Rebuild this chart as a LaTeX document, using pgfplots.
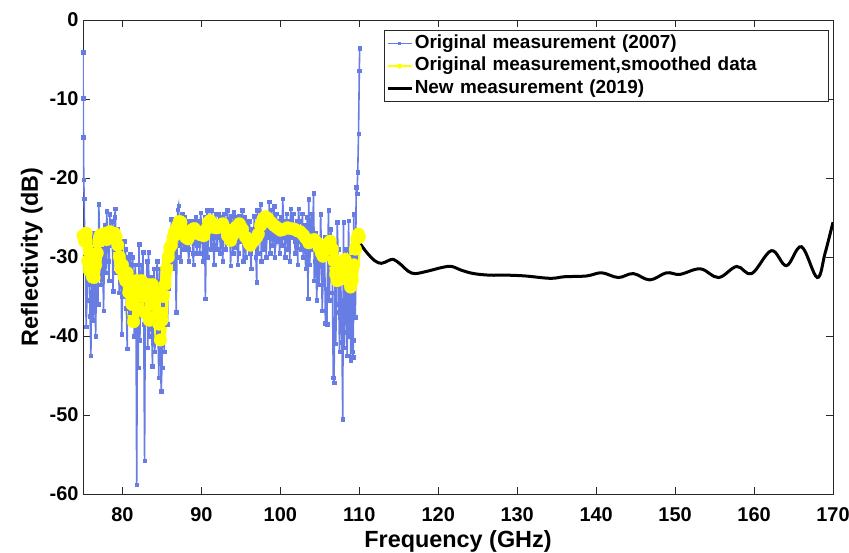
\documentclass[border=0pt]{standalone}
\usepackage{fontspec}
\setmainfont{Liberation Sans}
\usepackage{pgfplots}
\pgfplotsset{compat=1.18}
\definecolor{mblue}{RGB}{104,125,228}
\definecolor{myellow}{RGB}{255,255,0}
\definecolor{axgray}{RGB}{40,40,40}
\begin{document}
\begin{tikzpicture}
\begin{axis}[
 scale only axis, width=750bp, height=474bp,
 xmin=75, xmax=170, ymin=-60, ymax=0,
 xtick={80,90,...,170}, ytick={-60,-50,...,0},
 tick align=inside, major tick length=7bp,
 axis line style={axgray, line width=0.9bp},
 every tick/.style={axgray, line width=0.9bp},
 ticklabel style={font=\fontsize{20}{24}\selectfont\bfseries},
 /pgf/number format/assume math mode=true,
 xticklabel style={anchor=base, yshift=-28bp},
 yticklabel style={xshift=-1bp},
 xlabel={Frequency (GHz)}, ylabel={Reflectivity (dB)},
 label style={font=\fontsize{23.5}{28}\selectfont\bfseries},
 xlabel style={at={(axis description cs:0.5,0)}, anchor=base, yshift=-54bp},
 legend style={at={(0.995,0.979)}, anchor=north east, draw=axgray, line width=0.9bp, inner sep=2bp, row sep=0pt,
   font=\fontsize{19}{22}\selectfont\bfseries,
   nodes={text width=410bp, align=left, text height=14bp, text depth=4.5bp, inner sep=2bp}},
 legend cell align=left,
]
\coordinate (sw) at (rel axis cs:0,0);
\coordinate (ne) at (rel axis cs:1,1);
\addplot[mblue, line width=1.6bp, mark=square*, mark size=1.8bp, mark options={solid, fill=mblue, line width=0.4bp},
 legend image code/.code={\draw[mblue, line width=1.3bp] (0bp,0bp) -- (24bp,0bp); \path[fill=mblue, draw=none] (10.5bp,-1.6bp) rectangle (13.5bp,1.6bp);}]
coordinates {
(75.0,-4.1)(75.03,-9.9)(75.06,-14.8)(75.1,-20.2)(75.15,-22.6)(75.2,-26.5)(75.3,-30.0)(75.4,-38.8)(75.5,-35.5)(75.6,-28.0)(75.7,-31.0)(75.8,-33.5)(75.9,-37.5)
(76.0,-42.5)(76.1,-30.0)(76.2,-26.9)(76.3,-38.0)(76.4,-35.0)(76.5,-29.0)(76.6,-40.0)(76.7,-33.0)(76.8,-29.5)(76.9,-36.0)
(77.0,-23.3)(77.1,-27.5)(77.2,-31.0)(77.3,-33.5)(77.4,-27.0)(77.5,-29.0)(77.6,-36.8)(77.7,-30.5)(77.8,-26.0)(77.9,-32.0)
(78.0,-24.2)(78.1,-27.0)(78.2,-30.5)(78.3,-33.0)(78.4,-24.6)(78.5,-28.5)(78.6,-27.5)(78.7,-25.5)(78.8,-34.3)(78.9,-29.0)
(79.0,-25.0)(79.1,-23.9)(79.2,-32.0)(79.3,-28.0)(79.4,-26.5)(79.5,-31.5)(79.6,-34.5)(79.7,-29.0)(79.8,-28.0)(79.9,-39.8)
(80.0,-35.0)(80.1,-30.5)(80.2,-28.0)(80.3,-33.0)(80.4,-29.0)(80.5,-36.5)(80.6,-41.6)(80.7,-30.0)(80.8,-31.0)(80.9,-37.0)
(81.0,-29.6)(81.1,-32.0)(81.2,-34.5)(81.3,-30.0)(81.4,-36.0)(81.5,-40.0)(81.6,-31.0)(81.7,-33.0)(81.8,-58.8)(81.9,-36.5)
(82.0,-44.0)(82.1,-28.4)(82.2,-40.5)(82.3,-35.5)(82.4,-31.0)(82.5,-33.0)(82.6,-29.4)(82.7,-38.5)(82.8,-55.8)(82.9,-34.0)
(83.0,-36.0)(83.1,-30.5)(83.2,-41.5)(83.3,-29.4)(83.4,-40.0)(83.5,-37.0)(83.6,-32.5)(83.7,-39.0)(83.8,-43.8)(83.9,-35.0)
(84.0,-31.5)(84.1,-42.0)(84.2,-38.0)(84.3,-33.0)(84.4,-30.5)(84.5,-39.5)(84.6,-45.3)(84.7,-31.5)(84.8,-40.0)(84.9,-47.0)
(85.0,-44.0)(85.1,-36.0)(85.2,-30.0)(85.3,-42.0)(85.4,-35.0)(85.5,-31.5)(85.6,-29.5)(85.7,-38.5)(85.8,-34.0)(85.9,-31.0)
(86.0,-27.5)(86.1,-30.5)(86.2,-25.2)(86.3,-27.0)(86.4,-29.0)(86.5,-31.5)(86.6,-27.5)(86.7,-26.0)(86.8,-37.0)(86.9,-30.0)
(87.0,-24.0)(87.1,-23.5)(87.2,-28.5)(87.3,-26.5)(87.4,-30.5)(87.5,-25.5)(87.6,-24.6)(87.7,-29.0)(87.8,-27.0)(87.9,-25.0)
(88.0,-28.5)(88.1,-26.3)(88.2,-25.5)(88.3,-29.0)(88.4,-30.5)(88.5,-28.0)(88.6,-26.0)(88.7,-27.5)(88.8,-25.5)(88.9,-29.5)
(89.0,-31.0)(89.1,-26.5)(89.2,-28.0)(89.3,-25.0)(89.4,-29.5)(89.5,-28.5)(89.6,-25.5)(89.7,-27.0)(89.8,-29.5)(89.9,-24.4)
(90.0,-26.0)(90.1,-28.0)(90.2,-30.5)(90.3,-26.0)(90.4,-25.0)(90.5,-35.3)(90.6,-28.5)(90.7,-24.1)(90.8,-30.0)(90.9,-27.0)
(91.0,-25.0)(91.1,-25.5)(91.2,-29.0)(91.3,-24.1)(91.4,-26.5)(91.5,-28.5)(91.6,-31.0)(91.7,-26.0)(91.8,-24.5)(91.9,-27.5)
(92.0,-29.0)(92.1,-27.0)(92.2,-24.6)(92.3,-26.0)(92.4,-29.5)(92.5,-25.0)(92.6,-26.0)(92.7,-30.5)(92.8,-27.5)(92.9,-24.5)
(93.0,-25.5)(93.1,-29.0)(93.2,-26.5)(93.3,-24.1)(93.4,-25.5)(93.5,-28.0)(93.6,-27.0)(93.7,-31.1)(93.8,-24.8)(93.9,-26.5)
(94.0,-29.5)(94.1,-24.3)(94.2,-26.0)(94.3,-28.8)(94.4,-25.0)(94.5,-26.5)(94.6,-31.0)(94.7,-29.5)(94.8,-24.8)(94.9,-25.5)
(95.0,-28.0)(95.1,-26.0)(95.2,-24.1)(95.3,-30.5)(95.4,-27.5)(95.5,-25.0)(95.6,-30.0)(95.7,-28.0)(95.8,-25.4)(95.9,-26.5)
(96.0,-28.5)(96.1,-25.5)(96.2,-29.5)(96.3,-31.5)(96.4,-26.5)(96.5,-27.5)(96.6,-28.5)(96.7,-24.8)(96.8,-27.0)(96.9,-30.0)
(97.0,-33.2)(97.1,-24.1)(97.2,-29.5)(97.3,-27.5)(97.4,-25.5)(97.5,-23.3)(97.6,-30.5)(97.7,-26.5)(97.8,-24.5)(97.9,-29.0)
(98.0,-28.0)(98.1,-25.0)(98.2,-30.0)(98.3,-27.5)(98.4,-24.5)(98.5,-27.0)(98.6,-23.0)(98.7,-29.5)(98.8,-26.0)(98.9,-24.0)
(99.0,-28.5)(99.1,-27.0)(99.2,-23.6)(99.3,-30.0)(99.4,-26.5)(99.5,-24.5)(99.6,-28.0)(99.7,-27.5)(99.8,-25.5)(99.9,-29.5)
(100.0,-27.0)(100.1,-25.0)(100.2,-28.5)(100.3,-22.6)(100.4,-25.5)(100.5,-27.5)(100.6,-30.0)(100.7,-26.0)(100.8,-24.5)(100.9,-29.0)
(101.0,-28.0)(101.1,-25.5)(101.2,-30.5)(101.3,-23.9)(101.4,-26.0)(101.5,-27.5)(101.6,-24.5)(101.7,-26.5)(101.8,-28.0)(101.9,-29.5)
(102.0,-26.5)(102.1,-25.5)(102.2,-31.0)(102.3,-23.9)(102.4,-25.5)(102.5,-28.0)(102.6,-29.0)(102.7,-26.5)(102.8,-24.5)(102.9,-30.0)
(103.0,-28.5)(103.1,-26.0)(103.2,-31.5)(103.3,-28.5)(103.4,-25.0)(103.5,-35.3)(103.6,-22.7)(103.7,-31.0)(103.8,-29.0)(103.9,-24.5)
(104.0,-26.5)(104.1,-28.0)(104.2,-21.9)(104.3,-33.0)(104.4,-30.5)(104.5,-27.0)(104.6,-35.5)(104.7,-31.5)(104.8,-27.5)(104.9,-33.5)
(105.0,-31.0)(105.1,-24.6)(105.2,-29.5)(105.3,-36.8)(105.4,-33.5)(105.5,-29.0)(105.6,-27.5)(105.7,-38.4)(105.8,-34.0)(105.9,-38.5)
(106.0,-30.0)(106.1,-24.1)(106.2,-35.5)(106.3,-31.0)(106.4,-26.5)(106.5,-28.5)(106.6,-34.5)(106.7,-45.3)(106.8,-45.9)(106.9,-33.0)
(107.0,-41.0)(107.1,-37.0)(107.2,-25.6)(107.3,-29.0)(107.4,-36.0)(107.5,-42.0)(107.6,-31.0)(107.7,-35.5)(107.8,-40.8)(107.9,-50.5)
(108.0,-25.6)(108.1,-41.5)(108.2,-38.0)(108.3,-29.0)(108.4,-33.0)(108.45,-42.5)(108.5,-39.5)(108.65,-25.4)(108.7,-40.0)(108.8,-36.0)(108.85,-30.5)(108.9,-43.1)(108.95,-38.0)
(109.0,-30.0)(109.05,-37.0)(109.1,-42.0)(109.15,-33.0)(109.2,-42.7)(109.25,-40.5)(109.3,-24.6)(109.4,-33.5)(109.5,-37.6)(109.55,-30.0)(109.6,-21.2)
(109.7,-22.0)(109.8,-19.3)(109.9,-14.4)(110.0,-6.4)(110.05,-3.6)
};
\addlegendentry{Original measurement (2007)}
\addplot[myellow, line width=11bp, line join=round, line cap=round, mark=*, mark size=6.3bp, mark options={fill=myellow, draw=myellow, line width=0.3bp},
 legend image code/.code={\draw[myellow, line width=1.3bp, line cap=butt] (0bp,0bp) -- (24bp,0bp); \path[fill=myellow, draw=none] (12bp,0bp) circle (2.6bp);}]
coordinates {
(75.0,-27.3)(75.2,-28.0)(75.4,-27.0)(75.6,-30.5)(75.8,-31.7)(76.0,-30.0)(76.2,-32.5)(76.4,-32.6)(76.6,-31.0)
(76.8,-29.5)(77.0,-28.0)(77.2,-27.2)(77.4,-27.5)(77.6,-27.5)(77.8,-27.0)(78.0,-27.8)(78.2,-27.0)(78.4,-26.8)
(78.6,-27.5)(78.8,-27.0)(79.0,-27.0)(79.2,-27.5)(79.4,-28.5)(79.6,-30.0)(79.8,-31.5)(80.0,-31.0)(80.2,-32.5)
(80.4,-33.0)(80.6,-32.0)(80.8,-34.5)(81.0,-33.0)(81.2,-36.0)(81.4,-38.2)(81.6,-35.0)(81.8,-33.0)(82.0,-36.5)
(82.2,-34.0)(82.4,-33.0)(82.6,-35.0)(82.8,-37.0)(83.0,-34.0)(83.2,-33.5)(83.4,-38.0)(83.6,-36.0)(83.8,-33.5)
(84.0,-35.0)(84.2,-37.5)(84.4,-34.5)(84.6,-38.5)(84.8,-40.5)(85.0,-38.0)(85.2,-35.0)(85.4,-33.5)(85.6,-31.5)
(85.8,-30.0)(86.0,-28.8)(86.2,-28.5)(86.4,-27.5)(86.6,-26.8)(86.8,-26.5)(87.0,-26.0)(87.2,-25.5)(87.4,-25.6)
(87.6,-26.5)(87.8,-27.2)(88.0,-27.5)(88.3,-27.7)(88.6,-27.2)(88.9,-26.5)(89.1,-26.4)(89.4,-26.8)(89.7,-27.1)
(90.0,-27.2)(90.3,-27.3)(90.6,-26.5)(90.9,-25.6)(91.1,-25.4)(91.4,-25.8)(91.7,-26.3)(92.0,-26.3)(92.3,-26.0)
(92.7,-25.8)(93.0,-26.4)(93.3,-27.3)(93.7,-27.9)(94.0,-27.2)(94.4,-26.2)(94.8,-25.8)(95.2,-26.5)(95.6,-27.5)
(96.0,-28.2)(96.2,-28.5)(96.6,-28.0)(97.0,-27.5)(97.2,-27.1)(97.5,-26.0)(97.8,-25.2)(98.1,-24.9)(98.4,-25.1)
(98.8,-25.6)(99.2,-26.0)(99.6,-26.3)(100.0,-26.6)(100.4,-26.5)(100.9,-26.3)(101.3,-26.4)(101.8,-26.5)(102.2,-26.7)
(102.5,-26.8)(102.9,-27.2)(103.2,-27.6)(103.6,-28.2)(104.0,-28.0)(104.3,-27.8)(104.6,-28.2)(104.9,-28.8)(105.2,-29.5)
(105.4,-29.9)(105.7,-29.0)(106.0,-28.3)(106.3,-28.0)(106.6,-29.0)(106.8,-30.5)(107.0,-32.2)(107.2,-33.0)(107.4,-32.5)
(107.6,-32.8)(107.8,-31.5)(108.0,-30.5)(108.2,-30.3)(108.4,-30.8)(108.6,-32.0)(108.8,-33.3)(108.9,-33.8)(109.1,-33.0)
(109.3,-31.0)(109.5,-29.0)(109.7,-27.6)(109.9,-27.1)(110.0,-27.5)
};
\addlegendentry{Original measurement,smoothed data}
\addplot[black, line width=3bp, smooth, tension=0.6,
 legend image code/.code={\draw[black, line width=2.4bp] (0bp,0bp) -- (24bp,0bp);}]
coordinates {
(110.1,-28.3)(111.0,-29.5)(112.0,-30.5)(112.8,-30.8)(113.6,-30.5)(114.3,-30.3)(115.2,-30.9)(116.2,-31.8)
(117.0,-32.1)(118.2,-31.9)(119.4,-31.6)(120.6,-31.3)(121.7,-31.2)(123.0,-31.7)(124.5,-32.1)(126.5,-32.3)
(128.7,-32.3)(131.0,-32.4)(134.2,-32.7)(136.0,-32.5)(138.8,-32.4)(140.7,-32.0)(142.8,-32.6)(144.7,-32.1)
(146.8,-32.9)(148.9,-32.0)(150.6,-32.2)(153.2,-31.5)(155.5,-32.6)(157.8,-31.2)(159.7,-32.1)(162.2,-29.2)
(164.1,-31.1)(166.0,-28.7)(168.0,-32.6)(169.0,-29.5)(170.0,-25.6)
};
\addlegendentry{New measurement (2019)}
\end{axis}
\pgfresetboundingbox
\path ([shift={(-83bp,-59bp)}]sw) rectangle ([shift={(16bp,20bp)}]ne);
\end{tikzpicture}
\end{document}
